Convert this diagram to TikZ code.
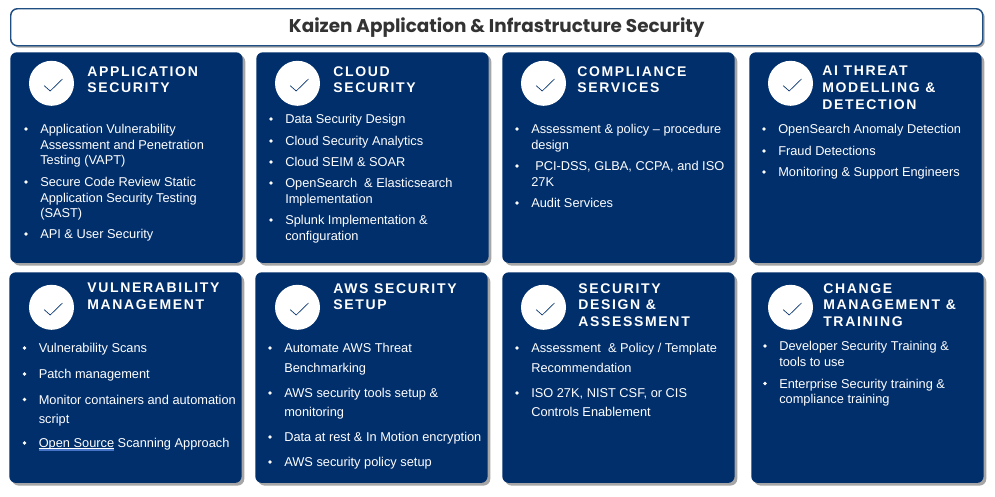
\documentclass[tikz,border=0pt]{standalone}
\usepackage{fontspec}
\setmainfont{Liberation Sans}
\newfontfamily\headfont[LetterSpace=12]{Liberation Sans}
\newfontfamily\titlefont{Poppins}
\usetikzlibrary{shadows}
\definecolor{cardblue}{HTML}{002F6C}
\definecolor{titleline}{HTML}{1F4E83}
\definecolor{titleink}{HTML}{333333}
\definecolor{spellblue}{HTML}{4472C4}
\tikzset{
    banner/.style={draw=titleline, line width=1.1pt, fill=white, rounded corners=5pt, anchor=north west, minimum width=729pt, minimum height=27.75pt, inner sep=0pt, text=titleink, font=\titlefont\bfseries\fontsize{13.8}{16}\selectfont, drop shadow={shadow xshift=1.5pt, shadow yshift=-1.5pt, opacity=.35, fill=black}},
    card/.style={fill=cardblue, rounded corners=5pt, anchor=north west, minimum width=174.25pt, minimum height=158pt, inner sep=0pt, drop shadow={shadow xshift=2pt, shadow yshift=-2pt, opacity=.35, fill=black}},
    badge/.style={circle, fill=white, minimum size=33.75pt, inner sep=0pt, path picture={\draw [cardblue, line width=.5pt] ([shift={(-7.3,2.4)}]path picture bounding box.center) -- ([shift={(-1.3,7.7)}]path picture bounding box.center) -- ([shift={(11,-4.3)}]path picture bounding box.center);}},
    heading/.style={anchor=north west, inner sep=0pt, align=left, text=white, font=\headfont\bfseries\fontsize{10.5}{12.6}\selectfont},
    itemtext/.style={anchor=north west, inner sep=0pt, align=left, text=white, font=\fontsize{9.6}{11.7}\selectfont},
    itemdot/.style={circle, fill=white, minimum size=2.8pt, inner sep=0pt}
}
\newcommand{\carditem}[4]{
        \node (#1) [itemtext] at (#2,#3-5) {#4};
        \node (#1dot) [itemdot] at (#2-14,#3) {};
}
\begin{document}
\begin{tikzpicture}[x=0.75pt, y=-0.75pt]
        \useasboundingbox (0,0) rectangle (995,496);

        \node (title) [banner] at (10,8) {Kaizen Application \& Infrastructure Security};

        \node (appcard) [card] at (10,52) {};
        \node (cloudcard) [card] at (256,52) {};
        \node (compcard) [card] at (502,52) {};
        \node (aicard) [card] at (749,52) {};
        \node (vulncard) [card] at (9,272) {};
        \node (awscard) [card] at (255,272) {};
        \node (designcard) [card] at (502,272) {};
        \node (changecard) [card] at (751,272) {};

        \node (appbadge) [badge] at (51.5,83.3) {};
        \node (cloudbadge) [badge] at (297.5,83.3) {};
        \node (compbadge) [badge] at (543.5,83.3) {};
        \node (aibadge) [badge] at (790.5,83.3) {};
        \node (vulnbadge) [badge] at (51.5,307.3) {};
        \node (awsbadge) [badge] at (297.5,307.3) {};
        \node (designbadge) [badge] at (543.5,307.3) {};
        \node (changebadge) [badge] at (790.5,307.3) {};

        \node (apphead) [heading] at (87,66) {APPLICATION\\SECURITY};
        \node (cloudhead) [heading] at (333,66) {CLOUD\\SECURITY};
        \node (comphead) [heading] at (577,66) {COMPLIANCE\\SERVICES};
        \node (aihead) [heading] at (822,66) {AI THREAT\\MODELLING \&\\DETECTION};
        \node (vulnhead) [heading] at (87,283) {VULNERABILITY\\MANAGEMENT};
        \node (awshead) [heading] at (333,283) {AWS SECURITY\\SETUP};
        \node (designhead) [heading] at (578,283) {SECURITY\\DESIGN \&\\ASSESSMENT};
        \node (changehead) [heading] at (823,283) {CHANGE\\MANAGEMENT \&\\TRAINING};

        \carditem{appa}{40}{129}{Application Vulnerability\\Assessment and Penetration\\Testing (VAPT)}
        \carditem{appb}{40}{182}{Secure Code Review Static\\Application Security Testing\\(SAST)}
        \carditem{appc}{40}{234}{API \& User Security}

        \carditem{clouda}{285}{119}{Data Security Design}
        \carditem{cloudb}{285}{141}{Cloud Security Analytics}
        \carditem{cloudc}{285}{162}{Cloud SEIM \& SOAR}
        \carditem{cloudd}{285}{183}{OpenSearch\ \ \& Elasticsearch\\Implementation}
        \carditem{cloude}{285}{220}{Splunk Implementation \&\\configuration}

        \carditem{compa}{531}{129}{Assessment \& policy -- procedure\\design}
        \carditem{compb}{531}{166}{\hspace*{3pt}PCI-DSS, GLBA, CCPA, and ISO\\27K}
        \carditem{compc}{531}{203}{Audit Services}

        \carditem{aia}{778}{129}{OpenSearch Anomaly Detection}
        \carditem{aib}{778}{151}{Fraud Detections}
        \carditem{aic}{778}{172}{Monitoring \& Support Engineers}

        \carditem{vulna}{38.5}{348}{Vulnerability Scans}
        \carditem{vulnb}{38.5}{374}{Patch management}
        \carditem{vulnc}{38.5}{399.5}{Monitor containers and automation\\[2.6pt]script}
        \carditem{vulnd}{38.5}{443}{Open Source Scanning Approach}
        \draw [white, line width=.6pt] (38.5,448.5) -- (114,448.5);
        \draw [spellblue, line width=.8pt] (38.5,450) -- (114,450);

        \carditem{awsa}{284}{348}{Automate AWS Threat\\[3pt]Benchmarking}
        \carditem{awsb}{284}{393}{AWS security tools setup \&\\[2.6pt]monitoring}
        \carditem{awsc}{284}{437}{Data at rest \& In Motion encryption}
        \carditem{awsd}{284}{462}{AWS security policy setup}

        \carditem{designa}{531}{348}{Assessment\ \ \& Policy / Template\\[3pt]Recommendation}
        \carditem{designb}{531}{393}{ISO 27K, NIST CSF, or CIS\\[2.6pt]Controls Enablement}

        \carditem{changea}{779}{346}{Developer Security Training \&\\tools to use}
        \carditem{changeb}{779}{383.5}{Enterprise Security training \&\\compliance training}
    \end{tikzpicture}
\end{document}
